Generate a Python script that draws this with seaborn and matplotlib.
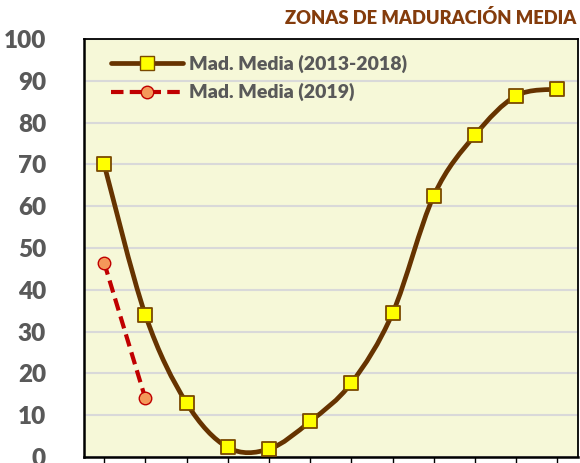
import numpy as np
import pandas as pd
import matplotlib
matplotlib.use("Agg")
import matplotlib.pyplot as plt
from matplotlib.path import Path
from matplotlib.patches import PathPatch
from matplotlib.lines import Line2D
import seaborn as sns

# Data
periodo = list(range(12))
mad_media_2013_2018 = [70.0, 34.0, 12.9, 2.3, 1.9, 8.5, 17.7, 34.4, 62.5, 77.0, 86.4, 88.0]
periodo_2019 = [0, 1]
mad_media_2019 = [46.5, 14.0]
y_ticks = [0, 10, 20, 30, 40, 50, 60, 70, 80, 90, 100]

titulo = "ZONAS DE MADURACIÓN MEDIA"
label_hist = "Mad. Media (2013-2018)"
label_2019 = "Mad. Media (2019)"

# colours
brown = "#663300"
red = "#C00000"
grey_txt = "#595959"
bg = "#F6F8D8"

sns.set_theme(style="white")
plt.rcParams["font.family"] = ["Lato", "DejaVu Sans"]
plt.rcParams["font.weight"] = "bold"

df_hist = pd.DataFrame({"x": periodo, "y": mad_media_2013_2018})
df_2019 = pd.DataFrame({"x": periodo_2019, "y": mad_media_2019})

fig = plt.figure(figsize=(5.8, 4.63), dpi=100)
ax = fig.add_axes([0.1440, 0.013, 0.8526, 0.9029])
ax.set_facecolor(bg)

# smoothed line (Excel-like bezier through the points)
xs = np.array(periodo, dtype=float)
ys = np.array(mad_media_2013_2018)
pts = np.column_stack([xs, ys])
verts = [pts[0]]
codes = [Path.MOVETO]
for i in range(len(pts) - 1):
    p0 = pts[i - 1] if i > 0 else pts[i]
    p1 = pts[i]
    p2 = pts[i + 1]
    p3 = pts[i + 2] if i + 2 < len(pts) else pts[i + 1]
    c1 = p1 + (p2 - p0) / 6
    c2 = p2 - (p3 - p1) / 6
    verts += [c1, c2, p2]
    codes += [Path.CURVE4] * 3
ax.add_patch(PathPatch(Path(verts, codes), fill=False, edgecolor=brown,
                       linewidth=3.4, capstyle="round", zorder=3))

sns.scatterplot(data=df_hist, x="x", y="y", marker="s", s=105, color="#FFFF00",
                edgecolor="#7A4A00", linewidth=1.3, zorder=4, ax=ax)

red_dash = (0, (3.0, 1.5))
sns.lineplot(data=df_2019, x="x", y="y", color=red, linewidth=3.0,
             linestyle=red_dash, marker="o", markersize=9,
             markerfacecolor="#F4985A", markeredgecolor=red, markeredgewidth=1.0,
             zorder=5, ax=ax)

ax.set_xlim(-0.5, 11.5)
ax.set_ylim(0, 100)
ax.set_yticks(y_ticks)
ax.set_xticks(periodo)
ax.set_xticklabels([""] * len(periodo))
ax.set_xlabel("")
ax.set_ylabel("")
ax.yaxis.grid(True, color="#D9D9D9", linewidth=1.5)
ax.set_axisbelow(True)
ax.tick_params(axis="y", length=0, pad=27, labelsize=17.5, labelcolor=grey_txt)
ax.tick_params(axis="x", length=7, width=1, color="black", direction="out", bottom=True)
for lab in ax.get_yticklabels():
    lab.set_fontweight("heavy")
for sp in ax.spines.values():
    sp.set_color("black")
    sp.set_linewidth(1.3)
ax.spines["bottom"].set_linewidth(1.8)
ax.spines["left"].set_linewidth(1.8)

handles = [
    Line2D([], [], color=brown, linewidth=3.4, marker="s", markersize=10,
           markerfacecolor="#FFFF00", markeredgecolor="#7A4A00", solid_capstyle="round"),
    Line2D([], [], color=red, linewidth=3.0, linestyle=red_dash, marker="o",
           markersize=9, markerfacecolor="#F4985A", markeredgecolor=red),
]
leg = ax.legend(handles, [label_hist, label_2019], loc="upper left", frameon=False,
                handlelength=3.7, handletextpad=0.3, labelspacing=0.55,
                bbox_to_anchor=(0.02, 1.005),
                prop={"family": ["Lato", "DejaVu Sans"], "weight": "heavy", "size": 14})
for t in leg.get_texts():
    t.set_color(grey_txt)

fig.text(0.993, 0.962, titulo, ha="right", va="center", color="#843C0C",
         fontsize=13.2, fontweight="heavy")

fig.savefig("out.png", dpi=100)
